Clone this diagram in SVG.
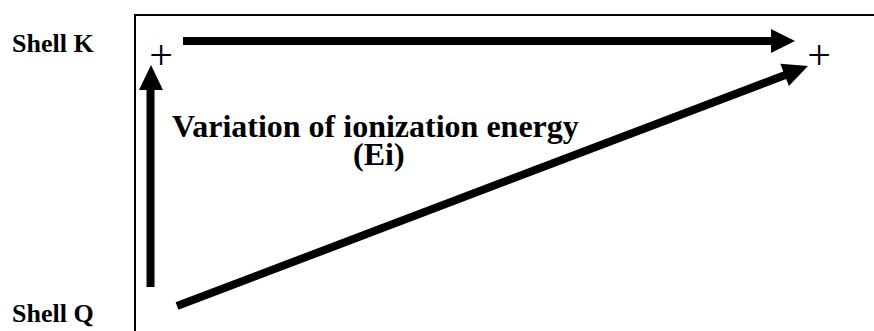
<svg xmlns="http://www.w3.org/2000/svg" width="874" height="331" viewBox="0 0 874 331">
<style>
.lbl{font-family:'Liberation Serif','DejaVu Serif',serif;font-weight:bold;fill:#000}
.plus{font-family:'Liberation Serif','DejaVu Serif',serif;font-size:42px;fill:#000}
.shaft{stroke:#000;stroke-width:8;fill:none}
.head{fill:#000}
</style>
<rect width="874" height="331" fill="#fff"/>
<g id="frame">
<path d="M135 331 V15 H874" stroke="#000" stroke-width="2" fill="none"/>
</g>
<g id="shell-k"><text class="lbl" x="12" y="52" font-size="26">Shell K</text></g>
<g id="shell-q"><text class="lbl" x="12" y="322" font-size="26">Shell Q</text></g>
<g id="title">
<text class="lbl" x="172" y="137" font-size="32">Variation of ionization energy</text>
<text class="lbl" x="353" y="165" font-size="32">(Ei)</text>
</g>
<g id="plus-left"><text class="plus" x="161" y="69" text-anchor="middle">+</text></g>
<g id="plus-right"><text class="plus" x="819" y="69" text-anchor="middle">+</text></g>
<g id="connectors">
<line class="shaft" x1="183" y1="41" x2="775" y2="41"/>
<polygon class="head" points="795,41 771,29 771,53"/>
<line class="shaft" x1="150.5" y1="287" x2="150.5" y2="86"/>
<polygon class="head" points="151,65 139,90 163,90"/>
<line class="shaft" x1="177" y1="306" x2="788" y2="74"/>
<polygon class="head" points="808,66 780.3,63.7 788.9,86.1"/>
</g>
</svg>
